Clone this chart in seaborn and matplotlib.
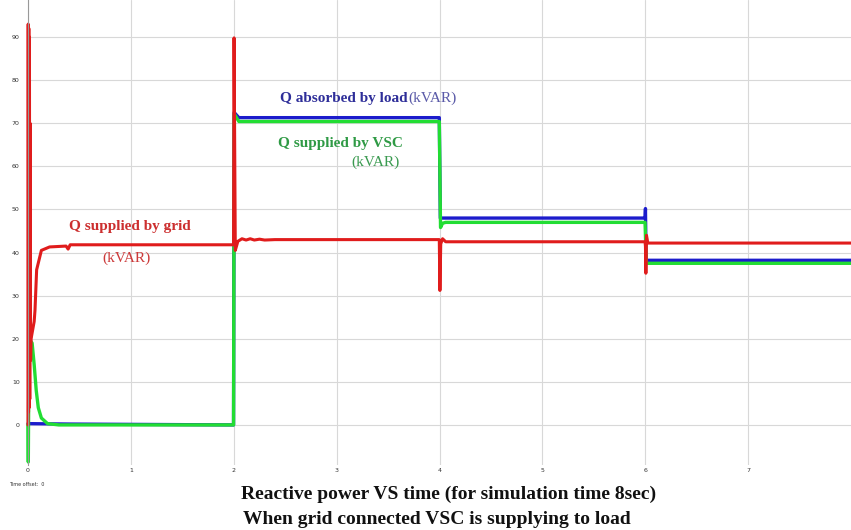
import numpy as np
import pandas as pd
import seaborn as sns
import matplotlib.pyplot as plt

# Q supplied by grid (red)
t_grid = [0, 0.002, 0.005, 0.008, 0.011, 0.014, 0.017, 0.02, 0.025, 0.03, 0.045, 0.06,
          0.068, 0.084, 0.13, 0.21, 0.37, 0.39, 0.41,
          1.998, 2.003, 2.015, 2.04, 2.08, 2.12, 2.16, 2.2, 2.25, 2.3, 2.4,
          3.998, 4.004, 4.012, 4.03, 4.06,
          5.998, 6.002, 6.006, 6.012, 6.025, 8.0]
q_grid = [0, 93, 3, 92, 4, 90, 6, 70, 15, 20, 22, 24,
          26.6, 36, 40.5, 41.3, 41.5, 40.8, 41.8,
          41.8, 89.8, 40.5, 42.6, 43.2, 42.9, 43.2, 42.9, 43.1, 42.9, 43.0,
          43.0, 31.2, 42.0, 43.2, 42.5,
          42.5, 41.5, 35.2, 44.0, 42.2, 42.2]

# Q absorbed by load (blue)
t_load = [0, 0.4, 1.998, 2.004, 2.05, 3.998, 4.008, 5.998, 6.002, 6.008, 8.0]
q_load = [0.3, 0.2, 0, 72.5, 71.3, 71.3, 48.0, 48.0, 50.2, 38.2, 38.2]

# Q supplied by VSC (green)
t_vsc = [0, 0.003, 0.01, 0.04, 0.06, 0.08, 0.1, 0.13, 0.19, 0.3,
         1.998, 2.004, 2.05, 3.998, 4.01, 4.03, 4.06, 5.998, 6.01, 8.0]
q_vsc = [0, -8.6, 20, 19, 14, 8, 4, 1.6, 0.3, 0,
         0, 72.2, 70.4, 70.4, 45.8, 46.8, 47.0, 47.0, 37.5, 37.5]

x_ticks = [0, 1, 2, 3, 4, 5, 6, 7]
y_ticks = [0, 10, 20, 30, 40, 50, 60, 70, 80, 90]

sns.set_style("white")
fig = plt.figure(figsize=(8.51, 5.30), dpi=100)
ax = fig.add_axes([28 / 851, 65 / 530, 823 / 851, 465 / 530])

df_vsc = pd.DataFrame({"t": t_vsc, "q": q_vsc})
df_load = pd.DataFrame({"t": t_load, "q": q_load})
df_grid = pd.DataFrame({"t": t_grid, "q": q_grid})

sns.lineplot(data=df_load, x="t", y="q", color="#1c1ccc", lw=2.4, sort=False, estimator=None,
             ax=ax, clip_on=False)
sns.lineplot(data=df_vsc, x="t", y="q", color="#22dd33", lw=2.4, sort=False, estimator=None,
             ax=ax, clip_on=False)
sns.lineplot(data=df_grid, x="t", y="q", color="#e01c1c", lw=2.2, sort=False, estimator=None,
             ax=ax, clip_on=False)

ax.set_xlim(0, 8)
ax.set_ylim(-9.3, 98.6)
ax.set_xticks(x_ticks)
ax.set_yticks(y_ticks)
ax.grid(True, color="#d8d8d8", lw=0.8)
ax.set_axisbelow(True)
for s in ["top", "right", "bottom"]:
    ax.spines[s].set_visible(False)
ax.spines["left"].set_color("#999999")
ax.spines["left"].set_linewidth(0.8)
ax.tick_params(axis="both", length=0, labelsize=4.5, labelcolor="#333333")
ax.tick_params(axis="x", pad=2)
ax.tick_params(axis="y", pad=6)
ax.set_xlabel("")
ax.set_ylabel("")

serif = "Liberation Serif"
ax.text(0.4, 44.5, "Q supplied by grid", color="#cc2f2f", fontsize=11, fontweight="bold",
        family=serif, ha="left", va="bottom")
ax.text(0.72, 37.2, "(kVAR)", color="#cc3a3a", fontsize=11, family=serif, ha="left", va="bottom")
ax.text(2.45, 74.2, "Q absorbed by load", color="#2e2e99", fontsize=11, fontweight="bold",
        family=serif, ha="left", va="bottom")
ax.text(3.7, 74.2, "(kVAR)", color="#5a5aa8", fontsize=11, family=serif, ha="left", va="bottom")
ax.text(2.43, 63.8, "Q supplied by VSC", color="#2f9a45", fontsize=11, fontweight="bold",
        family=serif, ha="left", va="bottom")
ax.text(3.14, 59.5, "(kVAR)", color="#3a9a50", fontsize=11, family=serif, ha="left", va="bottom")

fig.text(9 / 851, 1 - 484 / 530, "Time offset:  0", fontsize=3.5, color="#333333", va="center")
fig.text(449 / 851, 1 - 494 / 530, "Reactive power VS time (for simulation time 8sec)",
         family=serif, fontsize=14, fontweight="bold", ha="center", va="center", color="#111111")
fig.text(437 / 851, 1 - 519 / 530, "When grid connected VSC is supplying to load",
         family=serif, fontsize=14, fontweight="bold", ha="center", va="center", color="#111111")

fig.savefig("out.png", dpi=100)
